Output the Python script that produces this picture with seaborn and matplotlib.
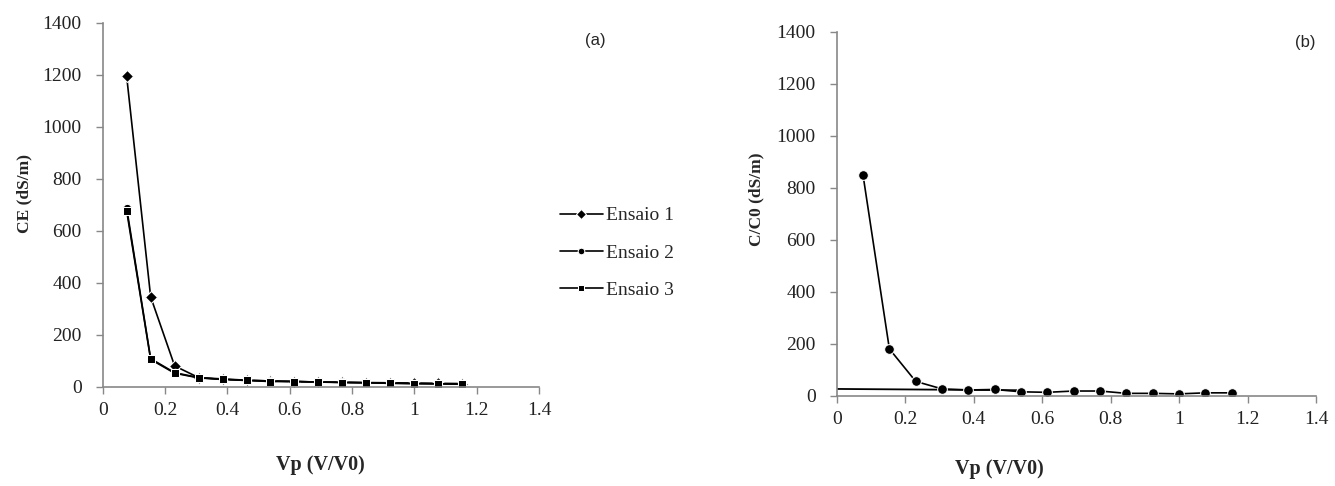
import pandas as pd
import matplotlib
matplotlib.use("Agg")
import matplotlib.pyplot as plt
import seaborn as sns

vp = [0.077, 0.154, 0.231, 0.308, 0.385, 0.462, 0.538, 0.615, 0.692, 0.769, 0.846, 0.923, 1.0, 1.077, 1.154]
ensaio1 = [1195, 346, 80, 35, 28, 25, 22, 20, 18, 17, 16, 15, 14, 13, 12]
ensaio2 = [688, 108, 54, 35, 30, 25, 22, 20, 18, 17, 15, 14, 12, 11, 10]
ensaio3 = [677, 105, 52, 34, 28, 24, 20, 20, 18, 16, 15, 13, 12, 11, 10]
series_names = ["Ensaio 1", "Ensaio 2", "Ensaio 3"]

cc0 = [849, 180, 55, 26, 22, 24, 15, 13, 18, 18, 9, 9, 7, 11, 11]
ref_x = [0, 0.538]
ref_y = [26, 21]

yticks = [0, 200, 400, 600, 800, 1000, 1200, 1400]
xticks = [0, 0.2, 0.4, 0.6, 0.8, 1.0, 1.2, 1.4]
xticklabels = ["0", "0.2", "0.4", "0.6", "0.8", "1", "1.2", "1.4"]

sns.set_style("white")
plt.rcParams['font.family'] = ['Liberation Serif', 'DejaVu Serif']

df = pd.DataFrame({
    "Vp": vp * 3,
    "CE": ensaio1 + ensaio2 + ensaio3,
    "Ensaio": [n for n in series_names for _ in vp],
})

fig = plt.figure(figsize=(13.35, 4.86), dpi=100)
ax1 = fig.add_axes([0.0769, 0.2043, 0.3268, 0.7484])
ax2 = fig.add_axes([0.6267, 0.1858, 0.3591, 0.7490])

sns.lineplot(data=df, x="Vp", y="CE", style="Ensaio", markers={"Ensaio 1": "D", "Ensaio 2": "o", "Ensaio 3": "s"},
             dashes=False, color="black", linewidth=1.2, markersize=6, ax=ax1, legend=True)
handles, labels = ax1.get_legend_handles_labels()
ax1.get_legend().remove()

sns.lineplot(x=ref_x, y=ref_y, color="black", linewidth=1.3, ax=ax2)
sns.lineplot(x=vp, y=cc0, color="black", linewidth=1.2, marker="o", markersize=7, ax=ax2)

for ax in (ax1, ax2):
    ax.set_xlim(0, 1.4)
    ax.set_ylim(0, 1400)
    ax.set_xticks(xticks)
    ax.set_xticklabels(xticklabels)
    ax.set_yticks(yticks)
    ax.tick_params(axis="both", direction="out", length=5, width=1, color="#888888",
                   labelsize=14, labelcolor="#222222", bottom=True, left=True)
    ax.tick_params(axis="y", pad=10)
    ax.tick_params(axis="x", pad=6)
    for s in ("top", "right"):
        ax.spines[s].set_visible(False)
    for s in ("left", "bottom"):
        ax.spines[s].set_color("#888888")
        ax.spines[s].set_linewidth(1.2)

ax1.set_xlabel("Vp (V/V0)", fontsize=14.5, fontweight="bold")
ax1.set_ylabel("CE (dS/m)", fontsize=12.5, fontweight="bold")
ax1.xaxis.set_label_coords(0.5, -0.188)
ax1.yaxis.set_label_coords(-0.162, 0.53)

ax2.set_xlabel("Vp (V/V0)", fontsize=14.5, fontweight="bold")
ax2.set_ylabel("C/C0 (dS/m)", fontsize=12.5, fontweight="bold")
ax2.xaxis.set_label_coords(0.34, -0.174)
ax2.yaxis.set_label_coords(-0.150, 0.54)

ax1.text(1.13, 0.953, "(a)", transform=ax1.transAxes, ha="center", va="center",
         fontsize=12, family=["Liberation Sans", "DejaVu Sans"])
ax2.text(0.977, 0.969, "(b)", transform=ax2.transAxes, ha="center", va="center",
         fontsize=12, family=["Liberation Sans", "DejaVu Sans"])

fig.legend(handles, labels, loc="center", bbox_to_anchor=(0.462, 0.480), frameon=False,
           fontsize=14, labelspacing=1.0, handlelength=2.2, handletextpad=0.15, markerscale=0.8)

fig.savefig("out.png", dpi=100)
